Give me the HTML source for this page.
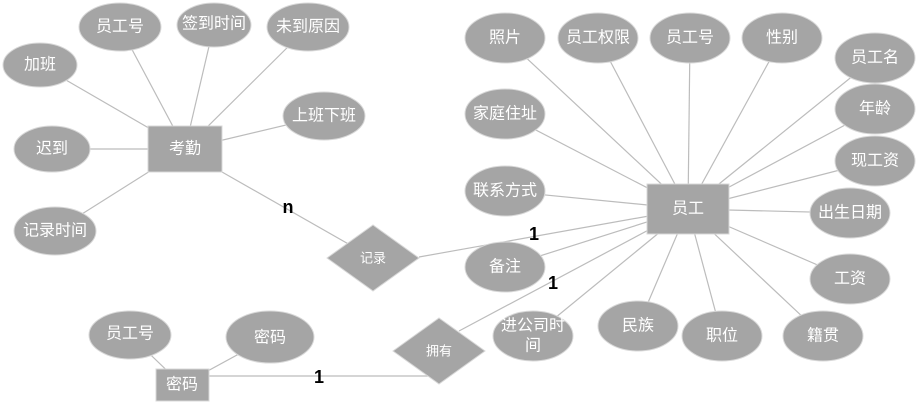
<!DOCTYPE html>
<html><head><meta charset="utf-8"><style>
body{margin:0;background:#fff}
svg text{font-family:"Liberation Sans","Noto Sans CJK SC",sans-serif;fill:#fff;font-size:16px;text-anchor:middle;dominant-baseline:central}
.b{fill:#000;font-weight:bold;font-size:18px}
</style></head><body>
<svg width="917" height="403" viewBox="0 0 917 403" xmlns="http://www.w3.org/2000/svg">
<g stroke="#bcbcbc" stroke-width="1.2">
<line x1="185" y1="149" x2="120" y2="27"/>
<line x1="185" y1="149" x2="214" y2="25"/>
<line x1="185" y1="149" x2="308" y2="27"/>
<line x1="185" y1="149" x2="40" y2="65"/>
<line x1="185" y1="149" x2="324" y2="116"/>
<line x1="185" y1="149" x2="52" y2="149"/>
<line x1="185" y1="149" x2="55" y2="231"/>
<line x1="222" y1="172" x2="373" y2="258"/>
<line x1="419" y1="257" x2="688" y2="209"/>
<line x1="459" y1="331" x2="688" y2="209"/>
<line x1="182" y1="376" x2="436" y2="376"/>
<line x1="182" y1="385" x2="130" y2="335"/>
<line x1="182" y1="385" x2="270" y2="337"/>
<line x1="688" y1="209" x2="505" y2="38"/>
<line x1="688" y1="209" x2="598" y2="38"/>
<line x1="688" y1="209" x2="690" y2="38"/>
<line x1="688" y1="209" x2="782" y2="38"/>
<line x1="688" y1="209" x2="875" y2="58"/>
<line x1="688" y1="209" x2="875" y2="109"/>
<line x1="688" y1="209" x2="875" y2="161"/>
<line x1="688" y1="209" x2="850" y2="213"/>
<line x1="688" y1="209" x2="850" y2="279"/>
<line x1="688" y1="209" x2="823" y2="336"/>
<line x1="688" y1="209" x2="722" y2="336"/>
<line x1="688" y1="209" x2="638" y2="326"/>
<line x1="688" y1="209" x2="533" y2="336"/>
<line x1="688" y1="209" x2="505" y2="267"/>
<line x1="688" y1="209" x2="505" y2="191"/>
<line x1="688" y1="209" x2="505" y2="114"/>
</g>
<g fill="#a5a5a5" stroke="#d8d8d8" stroke-width="1">
<ellipse cx="120" cy="27" rx="41" ry="24"/>
<ellipse cx="214" cy="25" rx="37" ry="22"/>
<ellipse cx="308" cy="27" rx="41" ry="24"/>
<ellipse cx="40" cy="65" rx="37" ry="22"/>
<ellipse cx="324" cy="116" rx="41" ry="24"/>
<ellipse cx="52" cy="149" rx="38" ry="23"/>
<ellipse cx="55" cy="231" rx="41" ry="24"/>
<rect x="148" y="126" width="74" height="46"/>
<polygon points="327,258 373,225 419,258 373,291"/>
<ellipse cx="130" cy="335" rx="41" ry="24"/>
<ellipse cx="270" cy="337" rx="44" ry="26"/>
<rect x="156" y="369" width="53" height="32"/>
<polygon points="393,351 439,318 485,351 439,384"/>
<ellipse cx="505" cy="38" rx="40" ry="25"/>
<ellipse cx="598" cy="38" rx="40" ry="25"/>
<ellipse cx="690" cy="38" rx="40" ry="25"/>
<ellipse cx="782" cy="38" rx="40" ry="25"/>
<ellipse cx="875" cy="58" rx="40" ry="25"/>
<ellipse cx="875" cy="109" rx="40" ry="25"/>
<ellipse cx="875" cy="161" rx="40" ry="25"/>
<ellipse cx="850" cy="213" rx="40" ry="25"/>
<ellipse cx="850" cy="279" rx="40" ry="25"/>
<ellipse cx="823" cy="336" rx="40" ry="25"/>
<ellipse cx="722" cy="336" rx="40" ry="25"/>
<ellipse cx="638" cy="326" rx="40" ry="25"/>
<ellipse cx="533" cy="336" rx="40" ry="25"/>
<ellipse cx="505" cy="267" rx="40" ry="25"/>
<ellipse cx="505" cy="191" rx="40" ry="25"/>
<ellipse cx="505" cy="114" rx="40" ry="25"/>
<rect x="647" y="184" width="82" height="50"/>
</g>
<text x="120" y="27">员工号</text>
<text x="214" y="24">签到时间</text>
<text x="308" y="27">未到原因</text>
<text x="40" y="65">加班</text>
<text x="324" y="116">上班下班</text>
<text x="52" y="149">迟到</text>
<text x="55" y="231">记录时间</text>
<text x="185" y="149">考勤</text>
<text x="373" y="258" style="font-size:13px">记录</text>
<text x="130" y="334">员工号</text>
<text x="270" y="338">密码</text>
<text x="182" y="385">密码</text>
<text x="439" y="351" style="font-size:13px">拥有</text>
<text x="505" y="38">照片</text>
<text x="598" y="38">员工权限</text>
<text x="690" y="38">员工号</text>
<text x="782" y="38">性别</text>
<text x="875" y="58">员工名</text>
<text x="875" y="109">年龄</text>
<text x="875" y="161">现工资</text>
<text x="850" y="213">出生日期</text>
<text x="850" y="279">工资</text>
<text x="823" y="336">籍贯</text>
<text x="722" y="336">职位</text>
<text x="638" y="326">民族</text>
<text x="533" y="326">进公司时</text>
<text x="533" y="346">间</text>
<text x="505" y="267">备注</text>
<text x="505" y="191">联系方式</text>
<text x="505" y="114">家庭住址</text>
<text x="688" y="209">员工</text>
<text class="b" x="288" y="207">n</text>
<text class="b" x="534" y="234">1</text>
<text class="b" x="553" y="283">1</text>
<text class="b" x="319" y="377">1</text>
</svg>
</body></html>
